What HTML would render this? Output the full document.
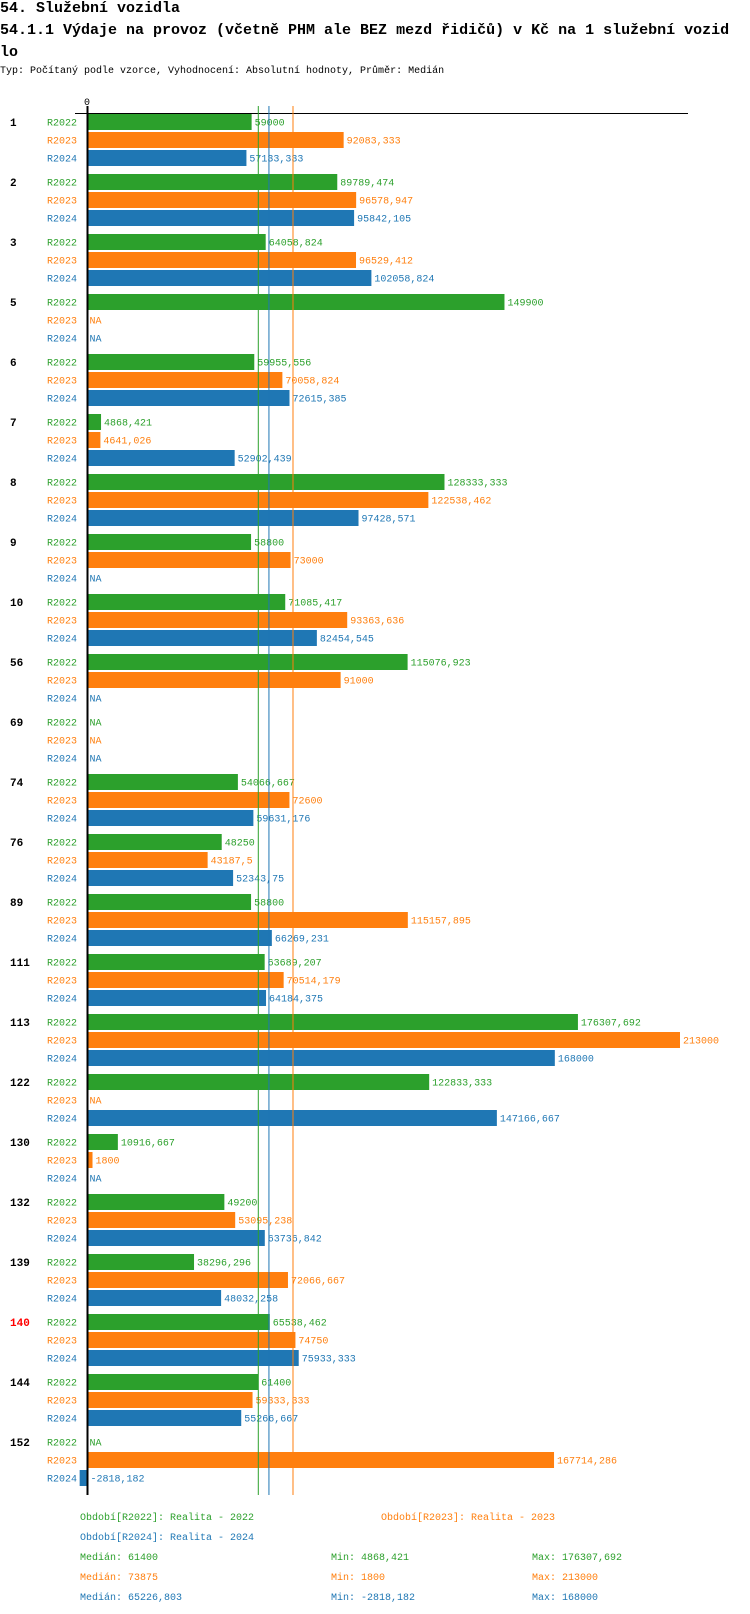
<!DOCTYPE html>
<html><head><meta charset="utf-8">
<style>
body{margin:0;background:#fff;width:750px;height:1614px;overflow:hidden;font-family:"Liberation Mono",monospace;}
.t{position:absolute;left:0;white-space:nowrap;font-weight:bold;font-size:15px;color:#000;}
</style></head>
<body>
<div class="t" style="top:0px">54. Služební vozidla</div>
<div class="t" style="top:22px">54.1.1 Výdaje na provoz (včetně PHM ale BEZ mezd řidičů) v Kč na 1 služební vozid</div>
<div class="t" style="top:44px">lo</div>
<div style="position:absolute;left:0;top:66px;font-size:10px;white-space:nowrap">Typ: Počítaný podle vzorce, Vyhodnocení: Absolutní hodnoty, Průměr: Medián</div>
<svg id="c" width="750" height="1614" style="position:absolute;left:0;top:0" xmlns="http://www.w3.org/2000/svg"></svg>
<script>
const groups=["1","2","3","5","6","7","8","9","10","56","69","74","76","89","111","113","122","130","132","139","140","144","152"];
const series=["R2022","R2023","R2024"];
const r2022=[59000,89789.474,64058.824,149900,59955.556,4868.421,128333.333,58800,71085.417,115076.923,null,54066.667,48250,58800,63689.207,176307.692,122833.333,10916.667,49200,38296.296,65538.462,61400,null];
const r2023=[92083.333,96578.947,96529.412,null,70058.824,4641.026,122538.462,73000,93363.636,91000,null,72600,43187.5,115157.895,70514.179,213000,null,1800,53095.238,72066.667,74750,59333.333,167714.286];
const r2024=[57133.333,95842.105,102058.824,null,72615.385,52902.439,97428.571,null,82454.545,null,null,59631.176,52343.75,66269.231,64184.375,168000,147166.667,null,63736.842,48032.258,75933.333,55266.667,-2818.182];
const medians=[61400,73875,65226.803];
const mins=["4868,421","1800","-2818,182"];
const maxs=["176307,692","213000","168000"];
const colors=["#2ca02c","#ff7f0e","#1f77b4"];
const vals=[r2022,r2023,r2024];
const svg=document.getElementById('c');
const NS="http://www.w3.org/2000/svg";
const x0=87.5, sc=(680-87.5)/213000;
const X=v=>x0+v*sc;
const Y=(g,s)=>114+g*60+s*18;
function mk(t,a,txt){const e=document.createElementNS(NS,t);for(const k in a)e.setAttribute(k,a[k]);if(txt!=null)e.textContent=txt;svg.appendChild(e);return e;}
const fmt=v=>String(v).replace('.',',');
const ax=mk('line',{x1:75,y1:113.5,x2:688,y2:113.5,stroke:'#000','stroke-width':1});


const z=mk('text',{x:87,y:105,'font-size':10,'font-family':'Liberation Mono, monospace','text-anchor':'middle'},'0');


groups.forEach((g,gi)=>{
  const gl=mk('text',{x:10,y:Y(gi,0)+12,'font-size':11,'font-weight':'bold','font-family':'Liberation Mono, monospace',fill:g==="140"?'#ff0000':'#000'},g);
  
  
  series.forEach((s,si)=>{
    const y=Y(gi,si), v=vals[si][gi];
    const sl=mk('text',{x:77,y:y+11.5,'font-size':10,'font-family':'Liberation Mono, monospace',fill:colors[si],'text-anchor':'end'},s);
    
    
    let tx=x0+2;
    if(v!==null){
      const a=Math.min(X(0),X(v)), b=Math.max(X(0),X(v));
      const r=mk('rect',{x:a,y:y,width:b-a,height:16,fill:colors[si]});
      
      
      tx=v>0?X(v)+3:x0+3;
    }
    const vl=mk('text',{x:tx,y:y+11.5,'font-size':10,'font-family':'Liberation Mono, monospace',fill:colors[si]},v===null?'NA':fmt(v));
    
    
  });
});
medians.forEach((m,i)=>{
  const l=mk('line',{x1:X(m),y1:106,x2:X(m),y2:1495,stroke:colors[i],'stroke-width':1});
  
  
});
const va=mk('line',{x1:87.5,y1:106,x2:87.5,y2:1495,stroke:'#000','stroke-width':2});


function lt(x,y,c,t,n){const e=mk('text',{x:x,y:y,'font-size':10,'font-family':'Liberation Mono, monospace',fill:c},t);}
lt(80,1520,colors[0],'Období[R2022]: Realita - 2022','legend-r2022');
lt(381,1520,colors[1],'Období[R2023]: Realita - 2023','legend-r2023');
lt(80,1540,colors[2],'Období[R2024]: Realita - 2024','legend-r2024');
series.forEach((s,i)=>{
  const y=1560+i*20;
  lt(80,y,colors[i],'Medián: '+fmt(medians[i]),'median-stat');
  lt(331,y,colors[i],'Min: '+mins[i],'min-stat');
  lt(532,y,colors[i],'Max: '+maxs[i],'max-stat');
});
</script>
</body></html>
